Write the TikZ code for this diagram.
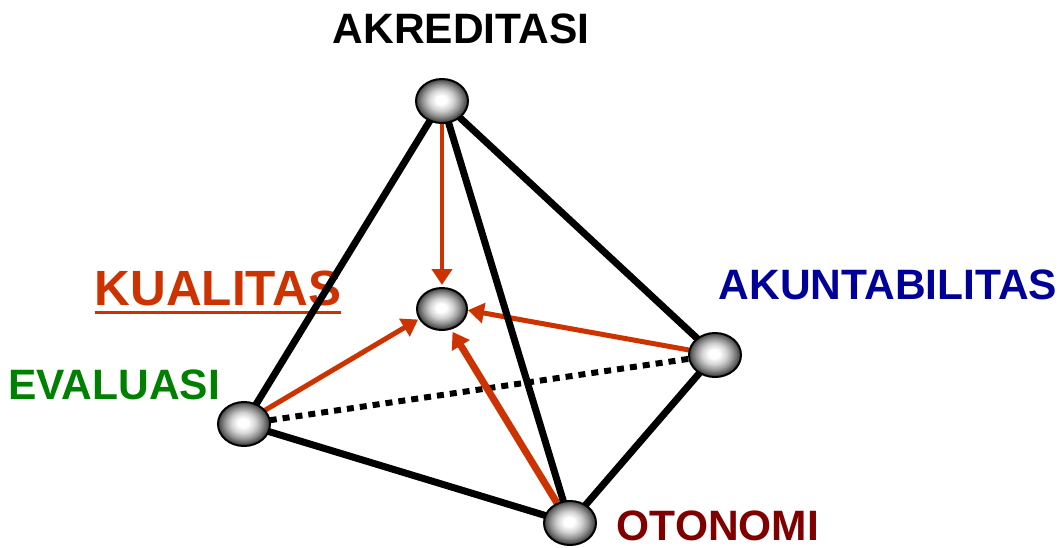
\documentclass[tikz,border=0pt]{standalone}
\usepackage{fontspec}
\setmainfont{Liberation Sans}
\usetikzlibrary{shapes.geometric,arrows.meta}

\definecolor{kred}{RGB}{204,51,0}
\definecolor{kblue}{RGB}{0,0,153}
\definecolor{kgreen}{RGB}{0,128,0}
\definecolor{kmaroon}{RGB}{128,0,0}

% glossy grey ball: white core, darkening towards the rim
\pgfdeclareradialshading{sphereshade}{\pgfpoint{-1bp}{1.5bp}}{%
  color(0bp)=(white); color(5bp)=(white);
  color(12bp)=(black!18); color(18bp)=(black!42); color(22bp)=(black!62);
  color(25bp)=(black!76); color(50bp)=(black)}

\tikzset{
  sphere/.style={ellipse, draw=black, line width=2pt, shading=sphereshade,
    minimum width=52pt, minimum height=44pt, inner sep=0pt},
  lbl/.style={font=\bfseries\fontsize{42.5}{42.5}\selectfont, anchor=base, inner sep=0pt},
  edge/.style={line width=7pt, black},
  hidden/.style={line width=6pt, black, dash pattern=on 7pt off 6pt},
  pull/.style={kred, line width=#1, -{Triangle[width=20pt,length=16pt]}, shorten >=1pt},
}

\begin{document}
\begin{tikzpicture}[x=1pt,y=-1pt]
  \useasboundingbox (0,0) rectangle (1061,547);

  % labels
  \node[lbl] (tAkr) at (461,43) {AKREDITASI};
  \node[lbl, kred, font=\bfseries\fontsize{49.5}{49.5}\selectfont] (tKua) at (218,305) {KUALITAS};
  \draw[kred, line width=3pt] ([yshift=-7pt]tKua.base west) -- ([yshift=-7pt]tKua.base east);
  \node[lbl, kblue] (tAku) at (888,299) {AKUNTABILITAS};
  \node[lbl, kgreen] (tEva) at (114,399) {EVALUASI};
  \node[lbl, kmaroon] (tOto) at (718,540) {OTONOMI};

  % vertices
  \coordinate (A) at (442,101);
  \coordinate (K) at (442,309);
  \coordinate (E) at (244,424);
  \coordinate (O) at (570,523);
  \coordinate (B) at (715,355);

  % hidden edge
  \draw[hidden] (E) -- (B);

  % arrows towards the quality point
  \draw[pull=4pt] (A) ++(0,22) -- (442,286);
  \draw[pull=5pt] (E) ++(18,-12) -- (419,319);
  \draw[pull=5pt] (B) ++(-26,-5) -- (467,310);
  \draw[pull=7pt] (O) ++(-13,-20) -- (452,331);

  % visible edges
  \draw[edge] (A) -- (E);
  \draw[edge] (A) -- (O);
  \draw[edge] (A) -- (B);
  \draw[edge] (E) -- (O);
  \draw[edge] (O) -- (B);

  % spheres
  \node[sphere] (nA) at (A) {};
  \node[sphere, minimum width=50pt, minimum height=42pt] (nK) at (K) {};
  \node[sphere] (nE) at (E) {};
  \node[sphere] (nO) at (O) {};
  \node[sphere] (nB) at (B) {};
\end{tikzpicture}
\end{document}
